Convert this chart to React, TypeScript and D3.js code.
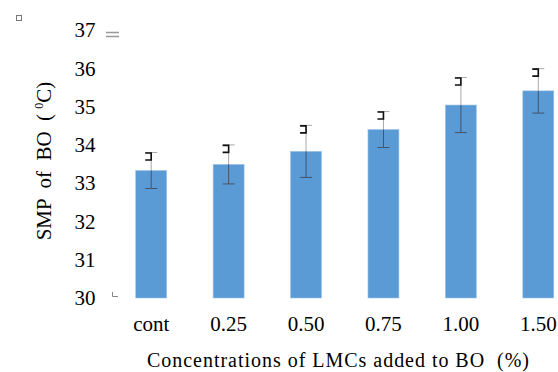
import React, { useEffect, useRef } from 'react';
import * as d3 from 'd3';

const categories = ['cont', '0.25', '0.50', '0.75', '1.00', '1.50'];
const smpValues = [33.33, 33.49, 33.83, 34.4, 35.04, 35.41];
const smpErrors = [0.47, 0.51, 0.68, 0.47, 0.72, 0.58];
const yTicks = [30, 31, 32, 33, 34, 35, 36, 37];

const App = () => {
  const ref = useRef<SVGSVGElement>(null);

  useEffect(() => {
    const svg = d3.select(ref.current);
    svg.selectAll('*').remove();

    const font = '"Liberation Serif", "Times New Roman", serif';

    const x = d3.scaleBand()
      .domain(categories)
      .range([112.5, 577])
      .paddingInner(0.6)
      .paddingOuter(0.3);

    const y = d3.scaleLinear()
      .domain([30, 37])
      .range([298, 30]);

    // y tick labels
    svg.append('g')
      .selectAll('text')
      .data(yTicks)
      .enter().append('text')
      .attr('x', 95.5)
      .attr('y', d => y(d))
      .attr('dy', '0.35em')
      .attr('text-anchor', 'end')
      .attr('font-family', font)
      .attr('font-size', 21)
      .attr('fill', '#000')
      .text(d => d);

    // bars
    svg.append('g')
      .selectAll('rect')
      .data(smpValues)
      .enter().append('rect')
      .attr('x', (d, i) => x(categories[i])!)
      .attr('y', d => y(d))
      .attr('width', x.bandwidth())
      .attr('height', d => y(30) - y(d))
      .attr('fill', '#5B9BD5')
      .attr('stroke', '#9DC3E6')
      .attr('stroke-width', 0.6);

    // error bars
    const eb = svg.append('g');
    smpValues.forEach((v, i) => {
      const cx = x(categories[i])! + x.bandwidth() / 2;
      const top = y(v + smpErrors[i]);
      const bot = y(v - smpErrors[i]);
      const mid = y(v);
      eb.append('line')
        .attr('x1', cx).attr('x2', cx).attr('y1', top).attr('y2', mid)
        .attr('stroke', '#aaa').attr('stroke-width', 1);
      eb.append('line')
        .attr('x1', cx).attr('x2', cx).attr('y1', mid).attr('y2', bot)
        .attr('stroke', '#44546a').attr('stroke-width', 1);
      eb.append('line')
        .attr('x1', cx - 6).attr('x2', cx + 6).attr('y1', top).attr('y2', top)
        .attr('stroke', '#aaa').attr('stroke-width', 1);
      eb.append('line')
        .attr('x1', cx - 6).attr('x2', cx + 6).attr('y1', bot).attr('y2', bot)
        .attr('stroke', '#44546a').attr('stroke-width', 1);
      // small bracket glyph near the upper cap
      eb.append('path')
        .attr('d', `M${cx - 6},${top + 0.5} H${cx} V${top + 7.5} H${cx - 6}`)
        .attr('fill', 'none')
        .attr('stroke', '#111')
        .attr('stroke-width', 1.6);
    });

    // x labels
    svg.append('g')
      .selectAll('text')
      .data(categories)
      .enter().append('text')
      .attr('x', d => x(d)! + x.bandwidth() / 2)
      .attr('y', 331)
      .attr('text-anchor', 'middle')
      .attr('font-family', font)
      .attr('font-size', 21)
      .attr('fill', '#000')
      .text(d => d);

    // x title
    svg.append('text')
      .attr('x', 147)
      .attr('y', 367)
      .attr('font-family', font)
      .attr('font-size', 20)
      .attr('fill', '#000')
      .attr('textLength', 382)
      .attr('lengthAdjust', 'spacing')
      .attr('xml:space', 'preserve')
      .text('Concentrations of LMCs added to BO  (%)');

    // y title
    const yt = svg.append('text')
      .attr('transform', 'translate(51,161) rotate(-90)')
      .attr('text-anchor', 'middle')
      .attr('font-family', font)
      .attr('font-size', 21)
      .attr('fill', '#000')
      .attr('xml:space', 'preserve');
    yt.append('tspan').text('SMP  of  BO  ( ');
    yt.append('tspan').attr('font-size', 12).attr('dy', -8).text('0');
    yt.append('tspan').attr('dy', 8).text('C)');

    // stray marks
    svg.append('rect')
      .attr('x', 16.5).attr('y', 15.5).attr('width', 5).attr('height', 5)
      .attr('fill', 'none').attr('stroke', '#777').attr('stroke-width', 1);
    svg.append('path')
      .attr('d', 'M106,32.5 H119 M106,36.5 H119')
      .attr('stroke', '#999').attr('stroke-width', 1.3);
    svg.append('path')
      .attr('d', 'M112.5,292 V296.5 H118')
      .attr('fill', 'none').attr('stroke', '#888').attr('stroke-width', 1);
  }, []);

  return (
    <svg ref={ref} width={558} height={372}
      style={{ position: 'absolute', left: 0, top: 0, background: '#fff' }} />
  );
};

export default App;
